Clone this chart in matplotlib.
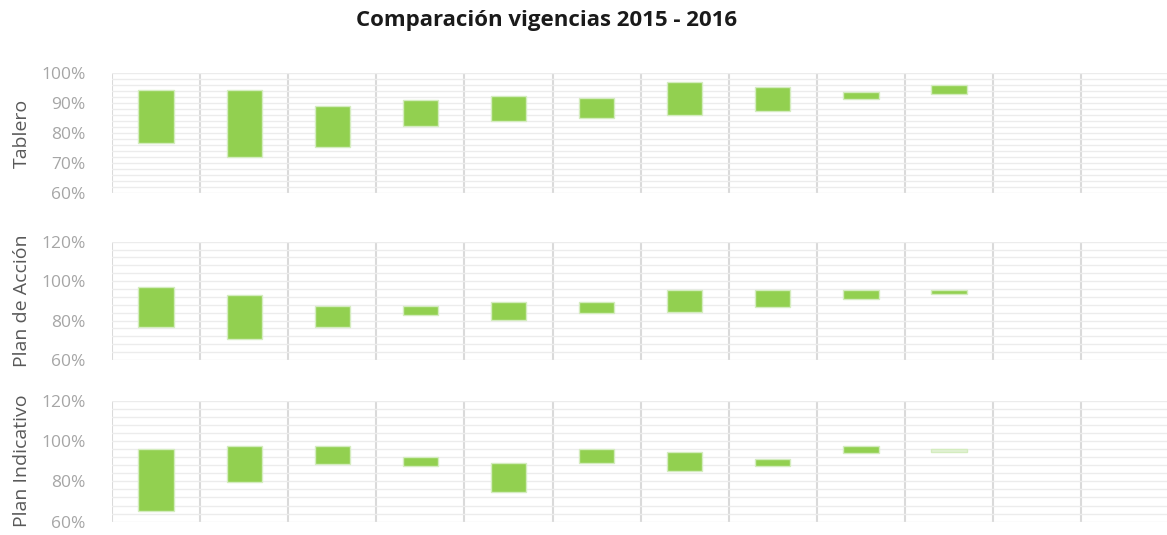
import numpy as np
import matplotlib.pyplot as plt

# Comparacion vigencias 2015 - 2016 (floating bars: low / high per column)

n_cols = 12
columns = np.arange(n_cols)

panel_names = ["Tablero", "Plan de Acción", "Plan Indicativo"]

tablero_low = [76.7, 72.0, 75.3, 82.3, 84.0, 85.0, 86.0, 87.3, 91.5, 93.1, np.nan, np.nan]
tablero_high = [94.3, 94.3, 89.0, 91.0, 92.3, 91.7, 97.0, 95.3, 93.8, 95.9, np.nan, np.nan]

accion_low = [76.6, 70.8, 76.6, 82.8, 80.3, 83.9, 84.4, 86.9, 91.0, 93.5, np.nan, np.nan]
accion_high = [97.0, 93.0, 87.2, 87.4, 89.4, 89.4, 95.5, 95.5, 95.5, 95.5, np.nan, np.nan]

indic_low = [65.2, 79.8, 88.8, 87.6, 74.7, 89.1, 85.1, 87.6, 94.0, 94.5, np.nan, np.nan]
indic_high = [95.9, 97.5, 97.5, 92.1, 89.1, 96.0, 94.6, 91.1, 97.7, 95.9, np.nan, np.nan]

lows = [tablero_low, accion_low, indic_low]
highs = [tablero_high, accion_high, indic_high]

y_ranges = [(60, 100, 10, 2), (60, 120, 20, 4), (60, 120, 20, 4)]

bar_color = "#92d050"
faint_color = "#e2f1d6"

fig = plt.figure(figsize=(11.67, 5.35), dpi=100)
fig.text(0.468, 0.962, "Comparación vigencias 2015 - 2016", ha="center", va="center",
         fontsize=16, fontweight="bold", family="Open Sans", color="#1a1a1a")

boxes = [(0.096, 0.639, 0.906, 0.2245),
         (0.096, 0.3271, 0.906, 0.2211),
         (0.096, 0.0249, 0.906, 0.2262)]

for i, box in enumerate(boxes):
    ax = fig.add_axes(box)
    lo = np.array(lows[i])
    hi = np.array(highs[i])
    ymin, ymax, major, minor = y_ranges[i]

    colors = [bar_color] * n_cols
    if i == 2:
        colors[9] = faint_color
    ax.bar(columns, hi - lo, bottom=lo, width=0.4, color=colors,
           edgecolor="#d4ecbf", linewidth=1, zorder=3)

    ax.set_xlim(-0.5, n_cols - 0.5)
    ax.set_ylim(ymin, ymax)
    ax.set_yticks(np.arange(ymin, ymax + 0.1, major))
    ax.set_yticklabels([f"{int(v)}%" for v in np.arange(ymin, ymax + 0.1, major)])
    ax.set_yticks(np.arange(ymin, ymax + 0.1, minor), minor=True)
    ax.set_xticks([])
    ax.tick_params(axis="y", which="both", length=0, pad=19, labelsize=12.5,
                   labelcolor="#a6a6a6")
    for lab in ax.get_yticklabels():
        lab.set_family("Open Sans")

    ax.grid(axis="y", which="both", color="#ececec", linewidth=1, zorder=0)
    for k in range(n_cols + 1):
        ax.axvline(k - 0.5, color="#dadada", linewidth=1.5, zorder=1)
    for s in ax.spines.values():
        s.set_visible(False)

    ax.set_ylabel(panel_names[i], fontsize=14, color="#595959", family="Open Sans")
    ax.yaxis.set_label_coords(-0.077, 0.5)

fig.savefig("out.png", dpi=100)
